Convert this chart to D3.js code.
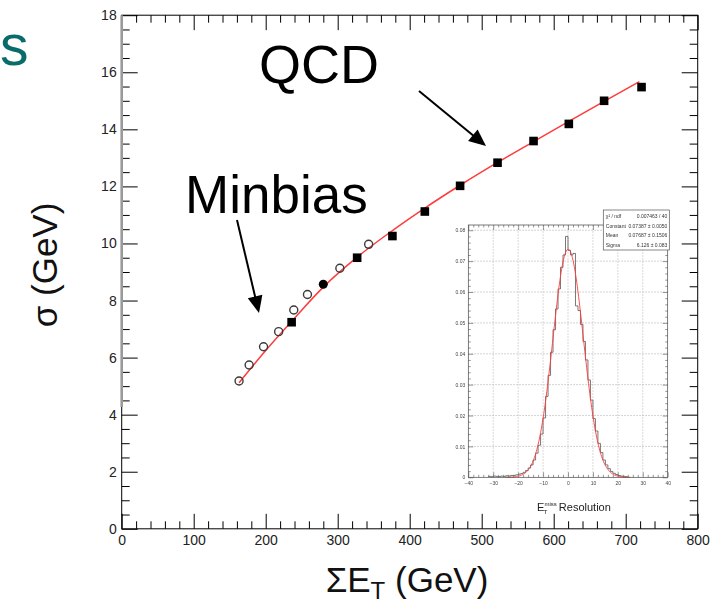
<!DOCTYPE html>
<html>
<head>
<meta charset="utf-8">
<script src="https://cdn.jsdelivr.net/npm/d3@7"></script>
<style>
  html, body { margin: 0; padding: 0; background: #fff; }
  svg { display: block; font-family: "Liberation Sans", Arial, Helvetica, sans-serif; }
</style>
</head>
<body>
<svg id="chart" width="710" height="604"></svg>
<script>
// ---- main plot data: missing-ET resolution vs. total transverse energy ----
const minbiasSumEt = [163, 177, 197, 218, 239, 258, 303, 343];
const minbiasSigma = [5.18, 5.74, 6.38, 6.91, 7.67, 8.21, 9.13, 9.97];
const overlapSumEt = [280];
const overlapSigma = [8.57];
const qcdSumEt = [236, 327, 376, 421, 470, 522, 572, 621, 670, 722];
const qcdSigma = [7.24, 9.50, 10.26, 11.12, 12.02, 12.83, 13.59, 14.19, 15.00, 15.48];
const fitSumEt = [163, 200, 236, 280, 327, 377, 421, 470, 522, 572, 621, 670, 719];
const fitSigma = [5.12, 6.25, 7.27, 8.47, 9.52, 10.47, 11.24, 12.04, 12.84, 13.57, 14.28, 14.98, 15.67];
const xMajorTicks = [0, 100, 200, 300, 400, 500, 600, 700, 800];
const yMajorTicks = [0, 2, 4, 6, 8, 10, 12, 14, 16, 18];

// ---- inset data: E_T^miss resolution histogram (unit-width bins) ----
const resBinStart = -32;
const resBinCounts = [
  0.0003, 0.0002, 0.0004, 0.0003, 0.0002, 0.0004, 0.0003, 0.0005, 0.0004, 0.0006,
  0.0006, 0.0008, 0.0010, 0.0012, 0.0016, 0.0022, 0.0030, 0.0040, 0.0056, 0.0078,
  0.0104, 0.0140, 0.0192, 0.0262, 0.0330, 0.0405, 0.0478, 0.0545, 0.0610, 0.0680,
  0.0720, 0.0780, 0.0735, 0.0720, 0.0725, 0.0555, 0.0540, 0.0495, 0.0440, 0.0380,
  0.0315, 0.0250, 0.0190, 0.0150, 0.0110, 0.0080, 0.0056, 0.0040, 0.0028, 0.0019,
  0.0013, 0.0009, 0.0006, 0.0004, 0.0003, 0.0002
];
const fitConstant = 0.07387;
const fitMean = 0.07687;
const fitWidth = 6.126;
const statLabels = ["\u03C7\u00B2 / ndf", "Constant", "Mean", "Sigma"];
const statValues = ["0.007463 / 40", "0.07387 \u00B1 0.0050", "0.07687 \u00B1 0.1506", "6.126 \u00B1 0.083"];
const insetXTicks = [-40, -30, -20, -10, 0, 10, 20, 30, 40];
const insetYTicks = [0, 0.01, 0.02, 0.03, 0.04, 0.05, 0.06, 0.07, 0.08];

const svg = d3.select("#chart");

// slide title fragment
svg.append("text")
  .attr("x", 0).attr("y", 65)
  .attr("font-size", 57).attr("fill", "#0a6b6b")
  .text("s");

// ---------------- main axes ----------------
const x = d3.scaleLinear().domain([0, 800]).range([121.7, 697.7]);
const y = d3.scaleLinear().domain([0, 18]).range([528.8, 15.2]);

const xMinor = d3.range(0, 801, 20).filter(v => v % 100 !== 0);
const yMinor = d3.range(0, 18.01, 0.5).filter(v => v % 2 !== 0);

function styleAxis(g) {
  g.select(".domain").remove();
  g.selectAll(".tick line").attr("stroke", "#000").attr("stroke-width", 1);
  g.selectAll(".tick text")
    .attr("fill", "#222")
    .attr("font-size", 14)
    .attr("font-family", "Liberation Sans, Arial, sans-serif");
}

const axes = svg.append("g");
// bottom
axes.append("g").attr("transform", `translate(0,${y(0)})`)
  .call(d3.axisBottom(x).tickValues(xMajorTicks).tickSize(-15).tickPadding(6).tickFormat(d3.format("d")))
  .call(styleAxis);
axes.append("g").attr("transform", `translate(0,${y(0)})`)
  .call(d3.axisBottom(x).tickValues(xMinor).tickSize(-7.5).tickFormat(""))
  .call(styleAxis);
// top
axes.append("g").attr("transform", `translate(0,${y(18)})`)
  .call(d3.axisTop(x).tickValues(xMajorTicks).tickSize(-15).tickFormat(""))
  .call(styleAxis);
axes.append("g").attr("transform", `translate(0,${y(18)})`)
  .call(d3.axisTop(x).tickValues(xMinor).tickSize(-7.5).tickFormat(""))
  .call(styleAxis);
// left
axes.append("g").attr("transform", `translate(${x(0)},0)`)
  .call(d3.axisLeft(y).tickValues(yMajorTicks).tickSize(-16).tickPadding(5).tickFormat(d3.format("d")))
  .call(styleAxis);
axes.append("g").attr("transform", `translate(${x(0)},0)`)
  .call(d3.axisLeft(y).tickValues(yMinor).tickSize(-8).tickFormat(""))
  .call(styleAxis);
// right
axes.append("g").attr("transform", `translate(${x(800)},0)`)
  .call(d3.axisRight(y).tickValues(yMajorTicks).tickSize(-16).tickFormat(""))
  .call(styleAxis);
axes.append("g").attr("transform", `translate(${x(800)},0)`)
  .call(d3.axisRight(y).tickValues(yMinor).tickSize(-8).tickFormat(""))
  .call(styleAxis);

// frame
svg.append("rect")
  .attr("x", x(0)).attr("y", y(18))
  .attr("width", x(800) - x(0)).attr("height", y(0) - y(18))
  .attr("fill", "none").attr("stroke", "#000").attr("stroke-width", 1);
// grey upper part of the left frame edge
svg.append("line")
  .attr("x1", x(0)).attr("x2", x(0))
  .attr("y1", y(18)).attr("y2", 407)
  .attr("stroke", "#9a9a9a").attr("stroke-width", 2.6);

// axis titles
svg.append("text")
  .attr("transform", "translate(57,265) rotate(-90)")
  .attr("text-anchor", "middle")
  .attr("font-size", 35).attr("fill", "#111")
  .text("\u03C3 (GeV)");

const xt = svg.append("text")
  .attr("x", 407).attr("y", 592)
  .attr("text-anchor", "middle")
  .attr("font-size", 35).attr("fill", "#111");
xt.append("tspan").text("\u03A3E");
xt.append("tspan").attr("font-size", 24).attr("dy", 7).text("T");
xt.append("tspan").attr("dy", -7).text(" (GeV)");

// ---------------- inset: resolution histogram ----------------
const defs = svg.append("defs");
defs.append("filter").attr("id", "soft")
  .attr("x", "-5%").attr("y", "-5%").attr("width", "110%").attr("height", "110%")
  .append("feGaussianBlur").attr("stdDeviation", 0.45);

const inset = svg.append("g").attr("filter", "url(#soft)");
const ix = d3.scaleLinear().domain([-40, 40]).range([468.3, 667.7]);
const iy = d3.scaleLinear().domain([0, 0.0817]).range([477.3, 225]);

inset.append("rect")
  .attr("x", ix(-40)).attr("y", iy(0.0817))
  .attr("width", ix(40) - ix(-40)).attr("height", iy(0) - iy(0.0817))
  .attr("fill", "#fff");

// grid
inset.append("g").selectAll("line.vg")
  .data(insetXTicks.slice(1, -1)).join("line")
  .attr("x1", d => ix(d)).attr("x2", d => ix(d))
  .attr("y1", iy(0.0817)).attr("y2", iy(0))
  .attr("stroke", "#c8c8c8").attr("stroke-width", 0.7).attr("stroke-dasharray", "2,1");
inset.append("g").selectAll("line.hg")
  .data(insetYTicks.slice(1)).join("line")
  .attr("x1", ix(-40)).attr("x2", ix(40))
  .attr("y1", d => iy(d)).attr("y2", d => iy(d))
  .attr("stroke", "#b8b8b8").attr("stroke-width", 0.8).attr("stroke-dasharray", "1.5,1.5");

function styleInsetAxis(g) {
  g.select(".domain").remove();
  g.selectAll(".tick line").attr("stroke", "#555").attr("stroke-width", 0.6);
  g.selectAll(".tick text").attr("fill", "#444").attr("font-size", 5);
}
const ixMinor = d3.range(-40, 41, 2).filter(v => v % 10 !== 0);
const iyMinor = d3.range(0, 0.0817, 0.002).filter((v, i) => i % 5 !== 0);

inset.append("g").attr("transform", `translate(0,${iy(0)})`)
  .call(d3.axisBottom(ix).tickValues(insetXTicks).tickSize(-5).tickPadding(4).tickFormat(d3.format("d")))
  .call(styleInsetAxis);
inset.append("g").attr("transform", `translate(0,${iy(0)})`)
  .call(d3.axisBottom(ix).tickValues(ixMinor).tickSize(-2.5).tickFormat(""))
  .call(styleInsetAxis);
inset.append("g").attr("transform", `translate(0,${iy(0.0817)})`)
  .call(d3.axisTop(ix).tickValues(insetXTicks).tickSize(-5).tickFormat(""))
  .call(styleInsetAxis);
inset.append("g").attr("transform", `translate(0,${iy(0.0817)})`)
  .call(d3.axisTop(ix).tickValues(ixMinor).tickSize(-2.5).tickFormat(""))
  .call(styleInsetAxis);
inset.append("g").attr("transform", `translate(${ix(-40)},0)`)
  .call(d3.axisLeft(iy).tickValues(insetYTicks).tickSize(-5).tickPadding(3).tickFormat(d => d === 0 ? "0" : d3.format(".2f")(d)))
  .call(styleInsetAxis);
inset.append("g").attr("transform", `translate(${ix(-40)},0)`)
  .call(d3.axisLeft(iy).tickValues(iyMinor).tickSize(-2.5).tickFormat(""))
  .call(styleInsetAxis);
inset.append("g").attr("transform", `translate(${ix(40)},0)`)
  .call(d3.axisRight(iy).tickValues(insetYTicks).tickSize(-5).tickFormat(""))
  .call(styleInsetAxis);
inset.append("g").attr("transform", `translate(${ix(40)},0)`)
  .call(d3.axisRight(iy).tickValues(iyMinor).tickSize(-2.5).tickFormat(""))
  .call(styleInsetAxis);

// histogram as a step outline
const histPts = [];
resBinCounts.forEach((v, i) => {
  const lo = resBinStart + i;
  histPts.push([lo, v], [lo + 1, v]);
});
inset.append("path")
  .datum(histPts)
  .attr("fill", "none").attr("stroke", "#555").attr("stroke-width", 0.8)
  .attr("d", d3.line().x(d => ix(d[0])).y(d => iy(d[1])));

// gaussian fit from the quoted parameters
const gaussXs = d3.range(-25, 25.01, 0.25);
inset.append("path")
  .datum(gaussXs)
  .attr("fill", "none").attr("stroke", "#ff3b3b").attr("stroke-width", 0.9)
  .attr("d", d3.line()
    .x(d => ix(d))
    .y(d => iy(fitConstant * Math.exp(-0.5 * Math.pow((d - fitMean) / fitWidth, 2)))));

inset.append("rect")
  .attr("x", ix(-40)).attr("y", iy(0.0817))
  .attr("width", ix(40) - ix(-40)).attr("height", iy(0) - iy(0.0817))
  .attr("fill", "none").attr("stroke", "#444").attr("stroke-width", 0.7);

// statistics box
const box = inset.append("g").attr("transform", "translate(603.3,210)");
box.append("rect").attr("width", 66).attr("height", 40)
  .attr("fill", "#fff").attr("stroke", "#555").attr("stroke-width", 0.7);
statLabels.forEach((lab, i) => {
  box.append("text").attr("x", 2.5).attr("y", 8 + i * 9.5)
    .attr("font-size", 5).attr("fill", "#333").text(lab);
  box.append("text").attr("x", 64).attr("y", 8 + i * 9.5)
    .attr("text-anchor", "end").attr("font-size", 5).attr("fill", "#333").text(statValues[i]);
});

// inset axis title
const it = inset.append("text")
  .attr("x", 537).attr("y", 511)
  .attr("font-family", "Liberation Sans Narrow, Liberation Sans, Arial, sans-serif")
  .attr("font-size", 11).attr("fill", "#222");
it.append("tspan").text("E");
it.append("tspan").attr("font-size", 6).attr("dy", 2.5).attr("dx", -0.5).text("T");
it.append("tspan").attr("font-size", 6).attr("dy", -8).attr("dx", -3).text("miss");
it.append("tspan").attr("dy", 5.5).attr("dx", 2).text("Resolution");

// ---------------- fit curve and data points ----------------
const fitLine = d3.line()
  .x((d, i) => x(fitSumEt[i]))
  .y(d => y(d))
  .curve(d3.curveMonotoneX);
svg.append("path")
  .datum(fitSigma)
  .attr("fill", "none").attr("stroke", "#ff3b3b").attr("stroke-width", 1.5)
  .attr("d", fitLine);

svg.append("g").selectAll("circle")
  .data(minbiasSumEt).join("circle")
  .attr("cx", d => x(d)).attr("cy", (d, i) => y(minbiasSigma[i]))
  .attr("r", 4).attr("fill", "none")
  .attr("stroke", "#3a3a3a").attr("stroke-width", 1.4);

svg.append("g").selectAll("circle")
  .data(overlapSumEt).join("circle")
  .attr("cx", d => x(d)).attr("cy", (d, i) => y(overlapSigma[i]))
  .attr("r", 4.5).attr("fill", "#000");

const sq = 8.6;
svg.append("g").selectAll("rect")
  .data(qcdSumEt).join("rect")
  .attr("x", d => x(d) - sq / 2).attr("y", (d, i) => y(qcdSigma[i]) - sq / 2)
  .attr("width", sq).attr("height", sq).attr("fill", "#000");

// ---------------- annotations ----------------
function arrow(x1, y1, x2, y2) {
  const len = 17, half = 7.5;
  const dx = x2 - x1, dy = y2 - y1, L = Math.hypot(dx, dy);
  const ux = dx / L, uy = dy / L;
  const bx = x2 - ux * len, by = y2 - uy * len;
  svg.append("line")
    .attr("x1", x1).attr("y1", y1).attr("x2", bx + ux * 2).attr("y2", by + uy * 2)
    .attr("stroke", "#000").attr("stroke-width", 2);
  svg.append("path")
    .attr("d", `M${x2},${y2}L${bx - uy * half},${by + ux * half}L${bx + uy * half},${by - ux * half}Z`)
    .attr("fill", "#000");
}
arrow(419, 91, 486, 146);
arrow(237, 220, 259, 313);

svg.append("text").attr("x", 259).attr("y", 83)
  .attr("font-size", 54).attr("fill", "#000").text("QCD");
svg.append("text").attr("x", 185).attr("y", 213)
  .attr("font-size", 53).attr("fill", "#000").text("Minbias");
</script>
</body>
</html>
